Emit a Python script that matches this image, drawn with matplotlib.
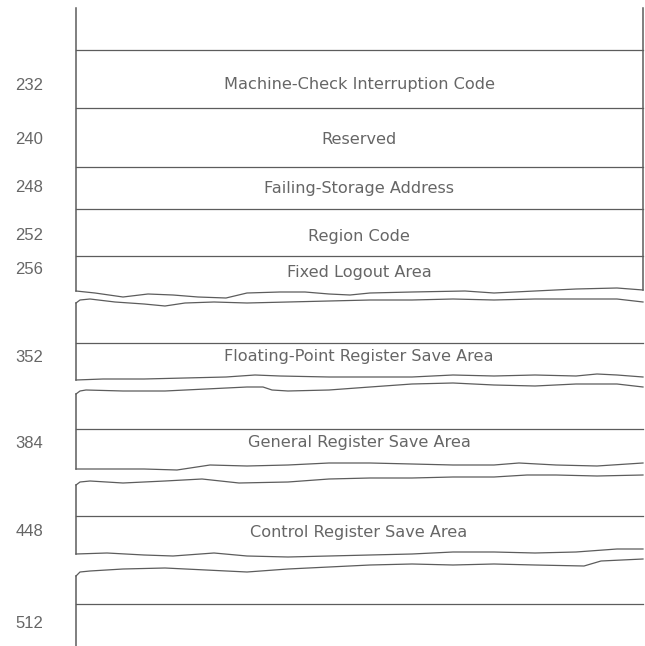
import matplotlib.pyplot as plt

# Storage map: byte offsets and the field names beside them
offsets = ['232', '240', '248', '252', '256', '352', '384', '448', '512']
offset_y = [85, 139, 188, 235, 270, 357, 443, 531, 623]
fields = ['Machine-Check Interruption Code', 'Reserved', 'Failing-Storage Address',
          'Region Code', 'Fixed Logout Area', 'Floating-Point Register Save Area',
          'General Register Save Area', 'Control Register Save Area']
field_y = [85, 140, 188, 236, 272, 357, 443, 532]

# Rule lines across the box
rules_y = [50, 108, 167, 209, 256, 343, 429, 516, 604]

# Hand drawn break lines (upper edge / lower edge of each break)
wave1a_x = [76, 95, 123, 148, 173, 198, 226, 247, 280, 305, 329, 350, 370, 412, 465, 494, 535, 576, 617, 643]
wave1a_y = [291, 293, 297, 294, 295, 297, 298, 293, 292, 292, 294, 295, 293, 292, 291, 293, 291, 289, 288, 290]
wave1b_x = [76, 80, 90, 115, 144, 165, 185, 214, 247, 288, 329, 370, 412, 453, 494, 535, 576, 617, 643]
wave1b_y = [303, 300, 299, 302, 304, 306, 303, 302, 303, 302, 301, 300, 300, 299, 300, 299, 299, 299, 302]
wave2a_x = [76, 103, 144, 185, 226, 255, 280, 329, 370, 412, 453, 494, 535, 576, 597, 617, 643]
wave2a_y = [380, 379, 379, 378, 377, 375, 376, 377, 377, 377, 375, 376, 375, 376, 374, 375, 377]
wave2b_x = [76, 80, 86, 123, 165, 206, 247, 263, 272, 288, 329, 370, 412, 453, 494, 535, 576, 617, 643]
wave2b_y = [394, 391, 390, 391, 391, 389, 387, 387, 390, 391, 390, 387, 384, 383, 385, 386, 384, 384, 387]
wave3a_x = [76, 107, 144, 177, 210, 247, 288, 329, 370, 412, 453, 494, 519, 556, 597, 643]
wave3a_y = [469, 469, 469, 470, 465, 466, 465, 463, 463, 464, 465, 465, 463, 465, 466, 463]
wave3b_x = [76, 80, 90, 123, 165, 202, 239, 288, 329, 370, 412, 453, 494, 527, 556, 597, 643]
wave3b_y = [485, 482, 481, 483, 481, 479, 483, 482, 479, 478, 478, 477, 477, 475, 475, 476, 475]
wave4a_x = [76, 107, 144, 173, 214, 247, 288, 329, 370, 412, 453, 494, 535, 576, 617, 643]
wave4a_y = [554, 553, 555, 556, 553, 556, 557, 556, 555, 554, 552, 552, 553, 552, 549, 549]
wave4b_x = [76, 80, 90, 123, 165, 206, 247, 288, 329, 370, 412, 453, 494, 535, 584, 601, 643]
wave4b_y = [576, 572, 571, 569, 568, 570, 572, 569, 567, 565, 564, 565, 564, 565, 566, 561, 559]

waves = [(wave1a_x, wave1a_y), (wave1b_x, wave1b_y), (wave2a_x, wave2a_y), (wave2b_x, wave2b_y),
         (wave3a_x, wave3a_y), (wave3b_x, wave3b_y), (wave4a_x, wave4a_y), (wave4b_x, wave4b_y)]

LEFT, RIGHT, TOP, BOTTOM = 76, 643, 8, 646
ink = '#5c5c5c'
txt = '#666666'

fig = plt.figure(figsize=(6.45, 6.46), dpi=100)
ax = fig.add_axes([0, 0, 1, 1])
ax.set_xlim(0, 645)
ax.set_ylim(646, 0)
ax.axis('off')

# horizontal rules
for y in rules_y:
    ax.plot([LEFT, RIGHT], [y, y], color=ink, lw=0.9)

# break lines
for wx, wy in waves:
    ax.plot(wx, wy, color=ink, lw=0.9, solid_joinstyle='round')

# left border, broken at each wave
left_tops = [TOP] + [w[1][0] for w in waves[1::2]]
left_bots = [w[1][0] for w in waves[0::2]] + [BOTTOM]
for t, b in zip(left_tops, left_bots):
    ax.plot([LEFT, LEFT], [t, b], color=ink, lw=1.1)

# right border only on the top block
ax.plot([RIGHT, RIGHT], [TOP, wave1a_y[-1]], color=ink, lw=1.1)

for lab, y in zip(offsets, offset_y):
    ax.text(29, y, lab, ha='center', va='center', fontsize=12, color=txt,
            family='Liberation Sans')

for lab, y in zip(fields, field_y):
    ax.text(359, y, lab, ha='center', va='center', fontsize=11.6, color=txt,
            family='DejaVu Sans')

plt.savefig('out.png', dpi=100, facecolor='white')
